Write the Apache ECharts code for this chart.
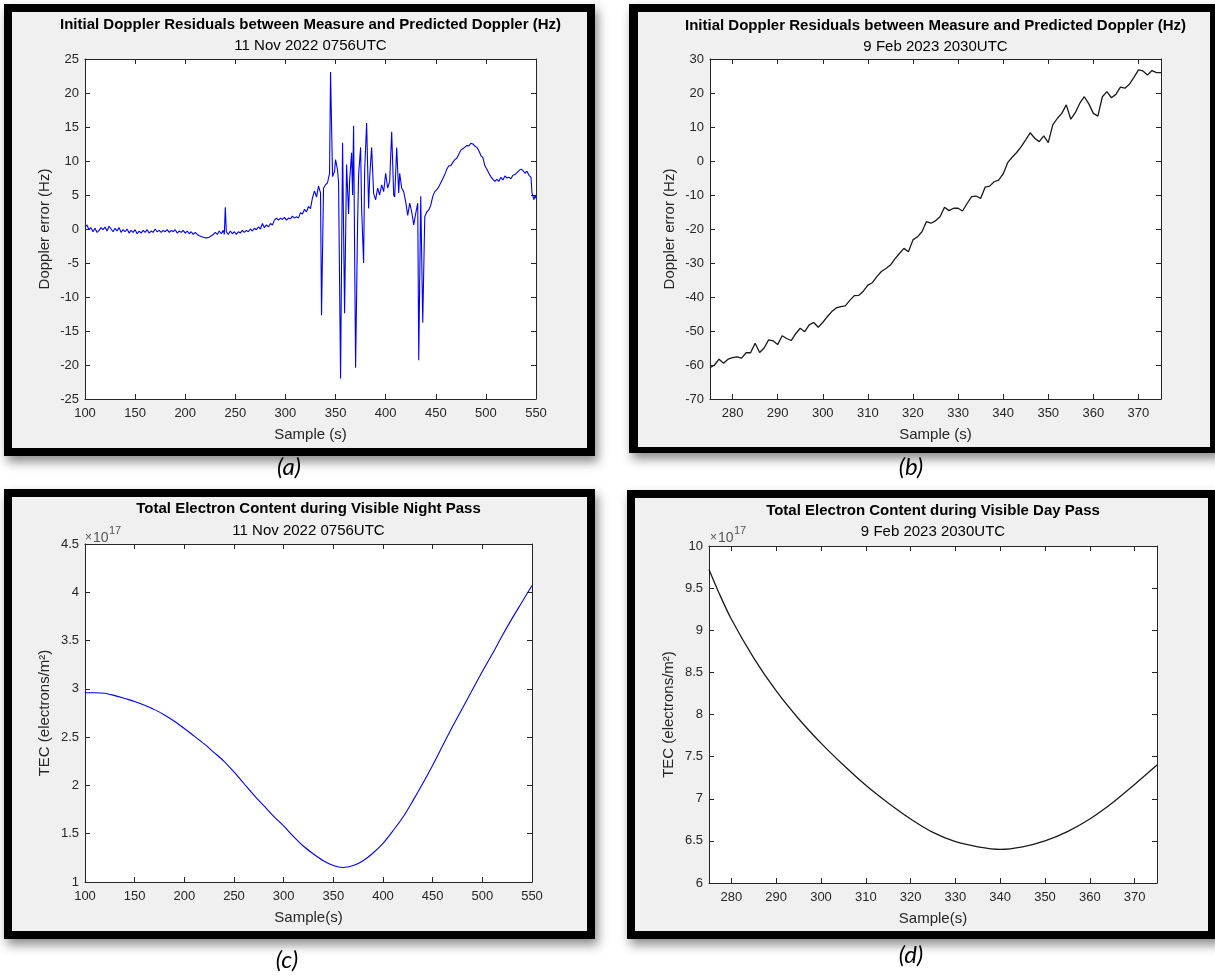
<!DOCTYPE html>
<html>
<head>
<meta charset="utf-8">
<script src="https://cdn.jsdelivr.net/npm/echarts@6/dist/echarts.min.js"></script>
<style>
  html, body { margin: 0; padding: 0; background: #ffffff; }
  #chart { width: 1215px; height: 976px; }
</style>
</head>
<body>
<div id="chart"></div>
<script>
// ---------- DATA ----------
// (a) Doppler residuals, 11 Nov 2022 0756UTC
const samplesA = [100,102,104,106,108,110,112,114,116,118,120,122,124,126,128,130,132,134,136,138,140,142,144,146,148,150,152,154,156,158,160,162,164,166,168,170,172,174,176,178,180,182,184,186,188,190,192,194,196,198,200,202,204,206,208,210,212,214,216,218,220,222,224,226,228,230,232,234,236,238,239,240,241,243,245,247,249,251,253,255,257,259,261,263,265,267,269,271,273,275,277,279,281,283,285,287,289,291,293,295,297,299,301,303,305,307,309,311,313,315,317,319,321,323,325,327,329,331,333,335,336,338,340,342,344,345,347,349,350,352,353,355,357,359,361,363,364,366,367,368,370,372,373,375,376,378,379,381,383,384,386,388,390,392,394,396,398,400,402,404,406,408,409,411,413,414,416,418,420,422,424,426,428,430,432,433,435,437,439,441,443,445,447,449,451,453,455,457,459,461,463,465,467,469,471,473,475,477,479,481,483,485,487,489,491,493,495,497,499,501,503,505,507,509,511,513,515,517,519,521,523,525,527,529,531,533,535,537,539,541,543,545,546,548,549,550];
const dopplerA = [0.3,0.6,-0.1,0.2,-0.4,0.1,-0.5,-0.2,0.2,-0.1,0.3,-0.3,0.4,0.0,-0.4,0.1,-0.3,0.2,-0.5,-0.1,-0.4,0.0,-0.6,-0.2,-0.5,-0.1,-0.7,-0.3,-0.6,-0.2,-0.5,-0.1,-0.6,-0.3,-0.5,0.0,-0.4,-0.2,-0.5,-0.2,-0.4,-0.1,-0.5,-0.2,-0.4,-0.1,-0.6,-0.3,-0.5,-0.2,-0.6,-0.3,-0.7,-0.4,-0.8,-0.5,-0.8,-1.0,-1.1,-1.2,-1.3,-1.3,-1.2,-1.0,-0.8,-0.5,-0.8,-0.3,-0.7,-0.2,-0.8,3.2,-0.4,-0.8,-0.3,-0.7,-0.4,-0.8,-0.4,-0.6,-0.2,-0.5,-0.2,-0.4,0.0,-0.3,0.1,-0.1,0.3,0.0,0.8,0.2,0.6,0.3,0.8,0.6,1.3,1.6,1.3,1.6,1.4,1.7,1.3,1.6,1.5,1.9,1.6,1.8,1.6,2.4,2.2,2.9,2.5,3.3,3.0,4.6,5.6,4.7,6.3,5.3,-12.7,6.0,6.5,6.8,8.2,23.1,7.7,8.5,10.2,8.7,6.8,-22.0,12.7,-12.4,9.5,2.2,7.0,11.2,5.0,15.2,-20.4,0.8,8.0,12.0,3.0,-5.0,8.5,15.6,3.0,7.5,12.0,5.2,4.3,6.0,5.0,6.5,5.5,8.2,6.0,7.0,14.3,5.0,4.7,12.0,5.3,8.2,6.0,5.5,4.0,2.0,3.8,2.5,0.6,2.3,3.8,-19.3,4.8,-13.8,1.8,2.5,2.8,3.5,4.8,5.5,5.8,6.2,6.8,7.4,8.0,8.8,9.3,9.3,9.8,10.2,10.4,11.0,11.6,11.8,12.0,12.3,12.2,12.6,12.5,12.2,12.0,11.5,10.8,10.5,9.3,8.8,8.2,7.7,7.3,7.0,7.3,7.0,7.6,7.2,7.8,7.5,7.6,7.4,7.9,8.0,8.3,8.6,8.8,8.6,8.2,8.5,7.9,7.6,5.3,4.3,5.0,4.5];

// (b) Doppler residuals, 9 Feb 2023 2030UTC (one value per second, 275..375)
const samplesB = [275,276,277,278,279,280,281,282,283,284,285,286,287,288,289,290,291,292,293,294,295,296,297,298,299,300,301,302,303,304,305,306,307,308,309,310,311,312,313,314,315,316,317,318,319,320,321,322,323,324,325,326,327,328,329,330,331,332,333,334,335,336,337,338,339,340,341,342,343,344,345,346,347,348,349,350,351,352,353,354,355,356,357,358,359,360,361,362,363,364,365,366,367,368,369,370,371,372,373,374,375];
const dopplerB = [-60.8,-60.0,-58.3,-59.5,-58.3,-57.8,-57.6,-58.0,-56.4,-56.4,-53.6,-56.3,-55.0,-52.6,-52.9,-54.0,-51.4,-52.2,-52.8,-50.8,-49.2,-50.2,-48.2,-47.5,-48.9,-47.5,-45.8,-44.3,-43.2,-42.8,-42.6,-41.0,-39.6,-39.5,-38.3,-36.5,-35.8,-34.0,-32.5,-31.6,-30.6,-28.8,-27.2,-25.7,-26.7,-23.2,-22.3,-20.8,-17.8,-18.3,-17.6,-16.4,-13.6,-14.6,-13.9,-13.9,-14.7,-12.5,-10.5,-10.3,-11.0,-7.7,-7.4,-6.1,-5.6,-3.8,-0.5,1.1,2.5,4.2,6.2,8.3,6.7,5.7,7.4,5.4,10.6,12.5,14.0,16.5,12.3,14.2,17.0,18.9,16.8,14.0,13.2,18.9,20.4,18.6,19.6,21.7,21.4,22.6,24.6,26.8,26.5,25.3,26.6,26.0,26.0];

// (c) TEC, night pass (units of 1e17 electrons/m^2)
const samplesC = [100,110,120,130,140,150,160,170,180,190,200,210,220,230,240,250,260,270,280,290,300,310,320,330,340,350,360,370,380,390,400,410,420,430,440,450,460,470,480,490,500,510,520,530,540,550];
const tecC = [2.96,2.96,2.955,2.93,2.90,2.87,2.83,2.785,2.73,2.665,2.59,2.51,2.43,2.34,2.25,2.14,2.02,1.90,1.79,1.68,1.58,1.47,1.37,1.29,1.22,1.17,1.15,1.17,1.22,1.30,1.40,1.53,1.67,1.84,2.02,2.21,2.41,2.61,2.80,2.99,3.18,3.36,3.55,3.73,3.90,4.07];

// (d) TEC, day pass (units of 1e17 electrons/m^2)
const samplesD = [275,277,280,285,290,295,300,305,310,315,320,325,330,335,340,345,350,355,360,365,370,375];
const tecD = [9.72,9.47,9.13,8.67,8.28,7.95,7.66,7.40,7.16,6.95,6.76,6.60,6.49,6.43,6.40,6.43,6.50,6.61,6.76,6.95,7.17,7.40];

// Tick labels / text
const ticksB = [280,290,300,310,320,330,340,350,360,370];
const titleDoppler = 'Initial Doppler Residuals between Measure and Predicted Doppler (Hz)';
const titleNight = 'Total Electron Content during Visible Night Pass';
const titleDay = 'Total Electron Content during Visible Day Pass';
const subNov = '11 Nov 2022 0756UTC';
const subFeb = '9 Feb 2023 2030UTC';
const captions = ['(a)', '(b)', '(c)', '(d)'];

// ---------- BUILD ----------
const FONT = '"Liberation Sans", Arial, Helvetica, sans-serif';
const AX = '#262626';

function pairs(xs, ys) { return xs.map((x, i) => [x, ys[i]]); }

const grids = [
  { left: 85,  top: 59,  width: 451, height: 340 },
  { left: 710, top: 59,  width: 451, height: 340 },
  { left: 85,  top: 544, width: 447, height: 338 },
  { left: 709, top: 546, width: 448, height: 337 }
].map(g => Object.assign({ show: true, backgroundColor: '#ffffff', borderWidth: 0, containLabel: false }, g));

const xAxes = [], yAxes = [];
function addAxes(gi, xs, ys, xname, yname) {
  const base = (o) => Object.assign({
    type: 'value', gridIndex: gi, splitLine: { show: false },
    axisLine: { show: true, onZero: false, lineStyle: { color: AX, width: 1 } },
    axisTick: { show: true, inside: true, length: 5, lineStyle: { color: AX, width: 1 } }
  }, o);
  const xCommon = { min: xs.min, max: xs.max };
  if (xs.interval) xCommon.interval = xs.interval;
  const xTick = xs.custom ? { customValues: xs.custom } : {};
  const xLab = xs.custom ? { customValues: xs.custom } : {};
  xAxes.push(base(Object.assign({}, xCommon, {
    position: 'bottom',
    axisTick: Object.assign({ show: true, inside: true, length: 5, lineStyle: { color: AX, width: 1 } }, xTick),
    axisLabel: Object.assign({ show: true, color: AX, fontSize: 13, fontFamily: FONT, margin: 8, showMinLabel: true, showMaxLabel: true }, xLab),
    name: xname, nameLocation: 'middle', nameGap: 28,
    nameTextStyle: { color: AX, fontSize: 15, fontFamily: FONT }
  })));
  xAxes.push(base(Object.assign({}, xCommon, {
    position: 'top',
    axisTick: Object.assign({ show: true, inside: true, length: 5, lineStyle: { color: AX, width: 1 } }, xTick),
    axisLabel: { show: false }
  })));
  const yCommon = { min: ys.min, max: ys.max, interval: ys.interval };
  yAxes.push(base(Object.assign({}, yCommon, {
    position: 'left',
    axisLabel: { show: true, color: AX, fontSize: 13, fontFamily: FONT, margin: 6, showMinLabel: true, showMaxLabel: true },
    name: yname, nameLocation: 'middle', nameGap: 33, nameRotate: 90,
    nameTextStyle: { color: AX, fontSize: 15, fontFamily: FONT }
  })));
  yAxes.push(base(Object.assign({}, yCommon, {
    position: 'right', axisLabel: { show: false }
  })));
}

addAxes(0, { min: 100, max: 550, interval: 50 }, { min: -25, max: 25, interval: 5 }, 'Sample (s)', 'Doppler error (Hz)');
addAxes(1, { min: 275, max: 375, custom: ticksB }, { min: -70, max: 30, interval: 10 }, 'Sample (s)', 'Doppler error (Hz)');
addAxes(2, { min: 100, max: 550, interval: 50 }, { min: 1, max: 4.5, interval: 0.5 }, 'Sample(s)', 'TEC (electrons/m²)');
addAxes(3, { min: 275, max: 375, custom: ticksB }, { min: 6, max: 10, interval: 0.5 }, 'Sample(s)', 'TEC (electrons/m²)');

function lineSeries(gi, data, color, w) {
  return {
    type: 'line', xAxisIndex: gi * 2, yAxisIndex: gi * 2, data: data,
    showSymbol: false, symbol: 'none', smooth: false, clip: true,
    lineStyle: { color: color, width: w || 1.1 }, itemStyle: { color: color },
    emphasis: { disabled: true }, silent: true, animation: false
  };
}
const series = [
  lineSeries(0, pairs(samplesA, dopplerA), '#0000ff', 1.1),
  lineSeries(1, pairs(samplesB, dopplerB), '#1a1a1a', 1.3),
  Object.assign(lineSeries(2, pairs(samplesC, tecC), '#0000ff', 1.1), { smooth: 0.3 }),
  Object.assign(lineSeries(3, pairs(samplesD, tecD), '#1a1a1a', 1.3), { smooth: 0.3 })
];

// frames
const frames = [
  { o: [4, 4, 591, 452],   i: [12, 12, 575, 436] },
  { o: [629, 4, 590, 449], i: [638, 12, 572, 435] },
  { o: [4, 489, 591, 450], i: [12, 497, 575, 434] },
  { o: [627, 490, 592, 449], i: [635, 498, 573, 433] }
];
const graphic = [];
frames.forEach(f => {
  graphic.push({ type: 'rect', z: -100, silent: true,
    shape: { x: f.o[0], y: f.o[1], width: f.o[2], height: f.o[3] },
    style: { fill: '#000', shadowBlur: 10, shadowOffsetX: 3, shadowOffsetY: 6, shadowColor: 'rgba(0,0,0,0.45)' } });
  graphic.push({ type: 'rect', z: -99, silent: true,
    shape: { x: f.i[0], y: f.i[1], width: f.i[2], height: f.i[3] },
    style: { fill: '#f0f0f0' } });
});
function txt(x, y, text, size, weight, color, align, family, italic) {
  graphic.push({ type: 'text', z: 100, silent: true, x: x, y: y,
    style: { text: text, fontSize: size, fontWeight: weight || 'normal', fontStyle: italic ? 'italic' : 'normal',
      fontFamily: family || FONT, fill: color || '#000', textAlign: align || 'center', textVerticalAlign: 'middle' } });
}
// titles
txt(310.5, 25, titleDoppler, 15, 'bold');
txt(310.5, 46, subNov, 15);
txt(935.5, 26, titleDoppler, 15, 'bold');
txt(935.5, 47, subFeb, 15);
txt(308.5, 509, titleNight, 15, 'bold');
txt(308.5, 531, subNov, 15);
txt(933, 511, titleDay, 15, 'bold');
txt(933, 532, subFeb, 15);
// exponent multipliers
txt(85, 538, '×', 12, 'normal', '#555', 'left');
txt(93, 538, '10', 14, 'normal', '#555', 'left');
txt(109, 531, '17', 11, 'normal', '#555', 'left');
txt(710, 538, '×', 12, 'normal', '#555', 'left');
txt(718, 538, '10', 14, 'normal', '#555', 'left');
txt(734, 531, '17', 11, 'normal', '#555', 'left');
// captions
const capPos = [[289, 467], [911, 467], [287, 960], [911, 955]];
captions.forEach((c, i) => txt(capPos[i][0], capPos[i][1], c, 24, 'normal', '#000', 'center', 'Lato, "Open Sans", sans-serif', true));

const chart = echarts.init(document.getElementById('chart'), null, { renderer: 'canvas', width: 1215, height: 976 });
chart.setOption({
  animation: false,
  backgroundColor: '#ffffff',
  grid: grids,
  xAxis: xAxes,
  yAxis: yAxes,
  series: series,
  graphic: graphic
});
</script>
</body>
</html>
